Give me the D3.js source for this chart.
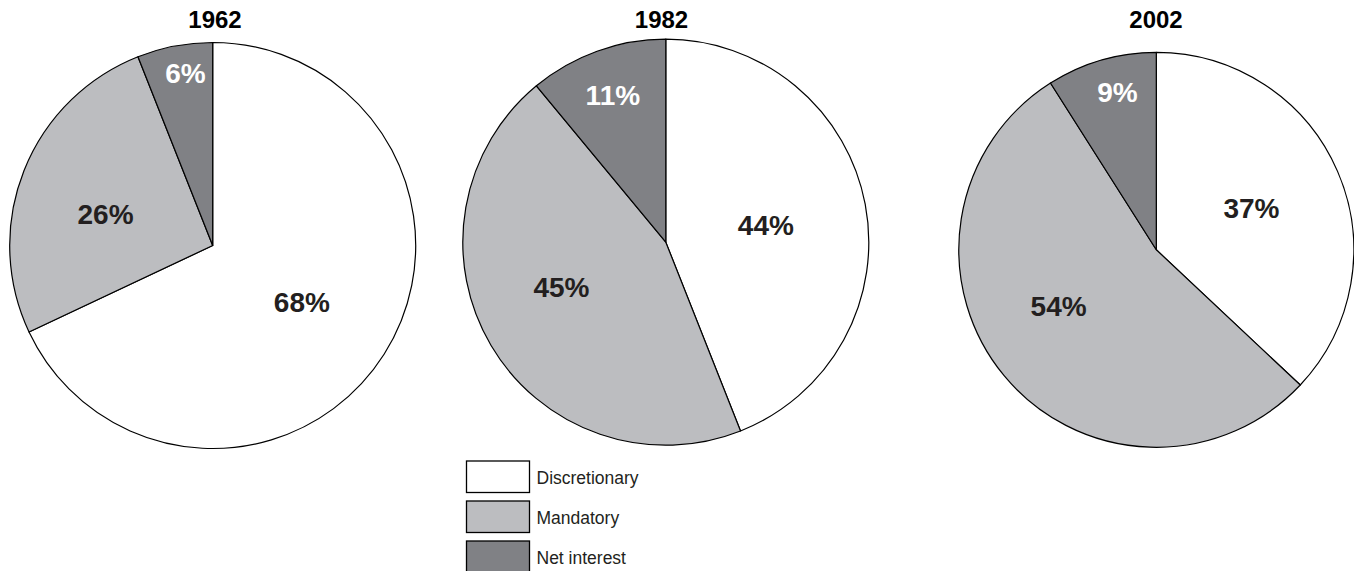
<!DOCTYPE html>
<html>
<head>
<meta charset="utf-8">
<script src="https://cdn.jsdelivr.net/npm/d3@7"></script>
<style>
  html, body { margin: 0; padding: 0; background: #fff; }
  svg { display: block; font-family: "Liberation Sans", Arial, Helvetica, sans-serif; }
</style>
</head>
<body>
<svg id="chart" width="1354" height="571"></svg>
<script>
// ---- data ----
const categories = ["Discretionary", "Mandatory", "Net interest"];
const years = ["1962", "1982", "2002"];
const values1962 = [68, 26, 6];
const values1982 = [44, 45, 11];
const values2002 = [37, 54, 9];
const seriesValues = [values1962, values1982, values2002];

// ---- style / layout ----
const fills = ["#ffffff", "#bcbdc0", "#808185"];
const labelColors = ["#231f20", "#231f20", "#ffffff"];
const pieLayout = [
  { cx: 212.7, cy: 245.5, r: 203, titleX: 215 },
  { cx: 665.8, cy: 242.2, r: 203, titleX: 661.5 },
  { cx: 1156.3, cy: 249.8, r: 197.5, titleX: 1156 }
];
// label placement: [radius fraction, angle shift in degrees] per slice
const labelPlacement = [
  [[0.52, 0], [0.55, -5.3], [0.86, 1.8]],
  [[0.50, 1.1], [0.56, 7.2], [0.77, 0]],
  [[0.525, 0], [0.57, 9.8], [0.82, 2.3]]
];

const svg = d3.select("#chart");
const pie = d3.pie().sort(null).value(d => d);
const colorScale = d3.scaleOrdinal().domain(categories).range(fills);
const labelColorScale = d3.scaleOrdinal().domain(categories).range(labelColors);

years.forEach((yr, i) => {
  const L = pieLayout[i];
  const arcs = pie(seriesValues[i]);
  const arc = d3.arc().innerRadius(0).outerRadius(L.r);
  const g = svg.append("g").attr("transform", `translate(${L.cx},${L.cy})`);

  g.selectAll("path.slice")
    .data(arcs)
    .enter().append("path")
    .attr("class", "slice")
    .attr("d", arc)
    .attr("fill", (d, j) => colorScale(categories[j]))
    .attr("stroke", "#000")
    .attr("stroke-width", 1.2)
    .attr("stroke-linejoin", "round");

  g.selectAll("text.lbl")
    .data(arcs)
    .enter().append("text")
    .attr("class", "lbl")
    .attr("transform", (d, j) => {
      const [rf, shift] = labelPlacement[i][j];
      const a = (d.startAngle + d.endAngle) / 2 + shift * Math.PI / 180;
      const rr = rf * L.r;
      return `translate(${rr * Math.sin(a)},${-rr * Math.cos(a)})`;
    })
    .attr("text-anchor", "middle")
    .attr("dy", "0.35em")
    .attr("font-size", 28)
    .attr("font-weight", "bold")
    .attr("fill", (d, j) => labelColorScale(categories[j]))
    .text(d => d.value + "%");

  svg.append("text")
    .attr("x", L.titleX)
    .attr("y", 27.7)
    .attr("text-anchor", "middle")
    .attr("font-size", 24)
    .attr("font-weight", "bold")
    .attr("fill", "#000")
    .text(yr);
});

// ---- legend ----
const legend = svg.append("g").attr("transform", "translate(466.5,461)");
const items = legend.selectAll("g.item")
  .data(categories)
  .enter().append("g")
  .attr("class", "item")
  .attr("transform", (d, k) => `translate(0,${k * 40})`);

items.append("rect")
  .attr("width", 63)
  .attr("height", 31.5)
  .attr("fill", d => colorScale(d))
  .attr("stroke", "#000")
  .attr("stroke-width", 1.3);

items.append("text")
  .attr("x", 70)
  .attr("y", 23.2)
  .attr("font-size", 17.5)
  .attr("fill", "#231f20")
  .text(d => d);
</script>
</body>
</html>
